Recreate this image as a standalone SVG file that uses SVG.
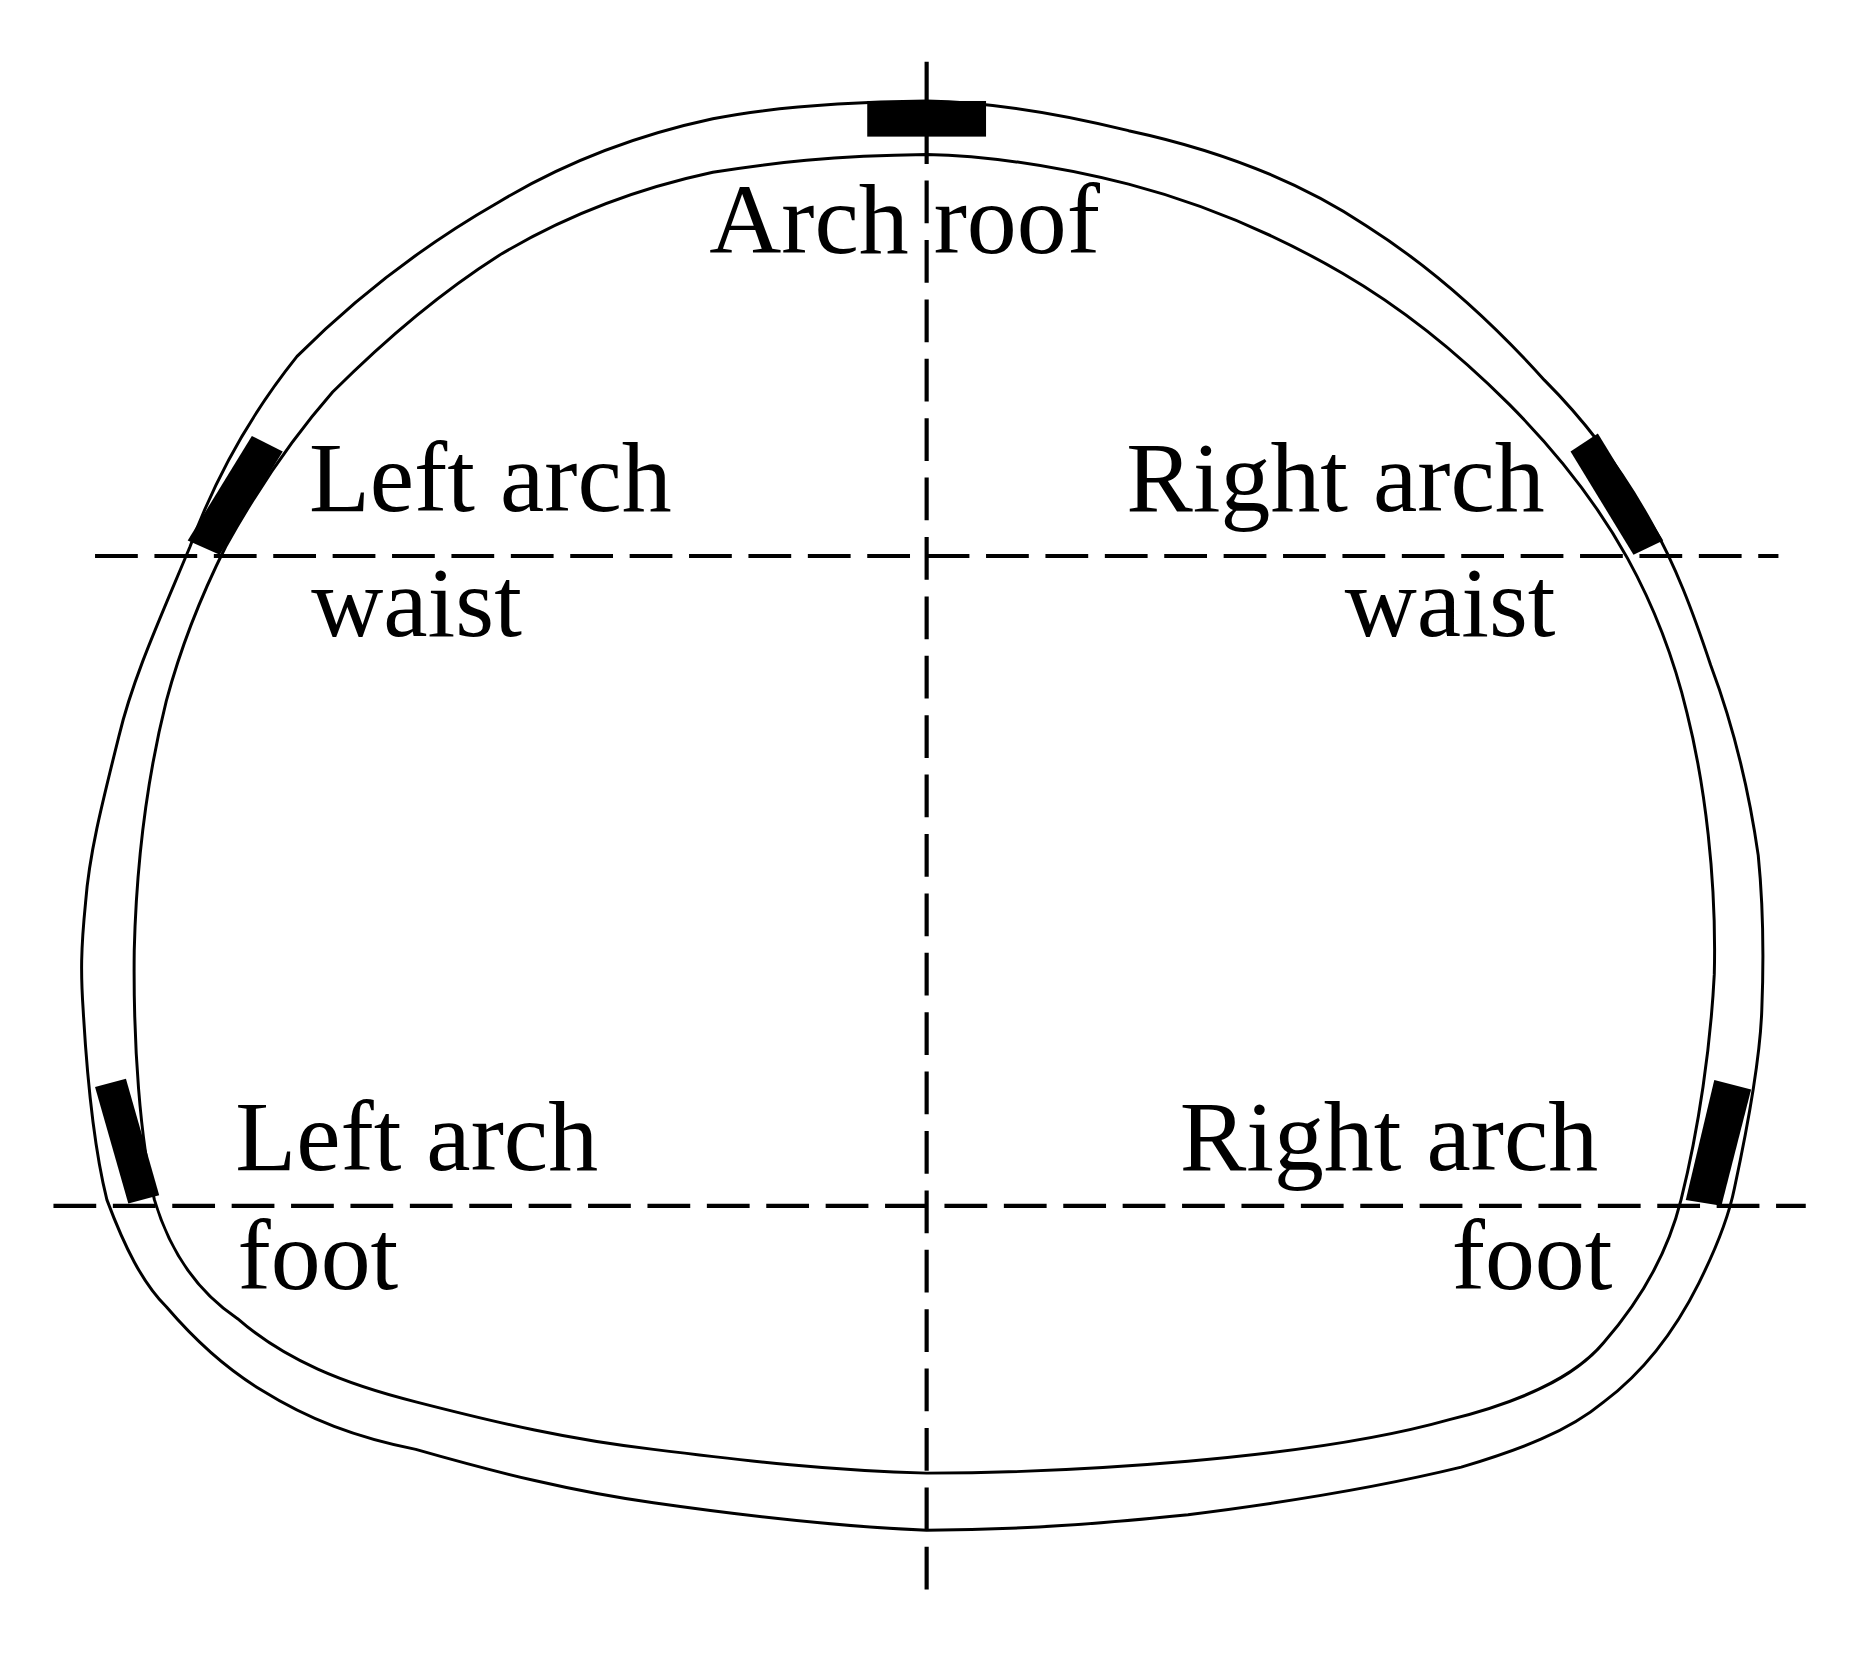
<svg xmlns="http://www.w3.org/2000/svg" width="1853" height="1660" viewBox="0 0 1853 1660">
<style>
.ln{fill:none;stroke:#000;stroke-width:2.5}
.d{fill:none;stroke:#000;stroke-width:3.5;stroke-dasharray:36 14}
.b{fill:#000}
text{font-family:"Liberation Serif","Times New Roman",serif;font-size:84px;fill:#000}
</style>
<rect width="1853" height="1660" fill="#fff"/>
<g transform="scale(1.188)">
<g id="lining">
<path class="ln" d="M780,85 C700,86 640,92 600,100 C530,115 470,140 420,170 C350,210 295,255 250,300 C210,350 180,405 160,460 C135,520 112,570 100,620 C85,680 75,720 72,760 C68,800 68,820 70,850 C74,920 80,970 90,1010 C105,1050 120,1080 140,1100 C170,1135 195,1155 220,1170 C260,1195 300,1210 350,1220 C420,1240 480,1255 550,1265 C620,1275 700,1285 780,1288 C860,1288 930,1282 1000,1275 C1080,1265 1160,1252 1230,1235 C1280,1220 1320,1205 1350,1180 C1390,1150 1415,1110 1430,1080 C1445,1050 1455,1025 1460,1000 C1475,930 1482,880 1483,850 C1485,800 1484,760 1480,720 C1470,650 1455,600 1440,560 C1425,515 1410,475 1390,440 C1365,395 1335,355 1300,320 C1255,270 1205,225 1150,190 C1090,150 1020,125 950,110 C890,95 830,86 780,85 Z"/>
<path class="ln" d="M780,130 C700,131 650,137 600,145 C530,160 470,185 420,215 C365,250 320,290 280,330 C245,370 215,415 190,460 C170,500 152,545 140,590 C125,650 115,720 113,800 C112,880 118,960 130,1010 C145,1060 170,1090 200,1110 C240,1145 290,1165 350,1180 C420,1198 480,1212 550,1220 C630,1230 700,1238 780,1240 C860,1240 930,1236 1000,1230 C1080,1223 1160,1212 1220,1195 C1280,1180 1325,1160 1350,1130 C1385,1090 1405,1050 1415,1010 C1430,950 1440,880 1443,820 C1445,740 1435,660 1420,600 C1408,550 1392,510 1370,470 C1345,425 1310,380 1270,340 C1230,300 1185,262 1130,230 C1075,198 1015,172 950,155 C890,140 830,131 780,130 Z"/>
</g>
<g id="connectors">
<line class="d" x1="780" y1="52" x2="780" y2="1340"/>
<line class="d" x1="80" y1="468" x2="1497" y2="468"/>
<line class="d" x1="45" y1="1015" x2="1520" y2="1015"/>
</g>
<g id="sensors">
<rect class="b" x="730" y="85" width="100" height="30"/>
<polygon class="b" points="158,455 185,467 238,380 212,367"/>
<polygon class="b" points="1322,380 1345,365 1400,455 1375,467"/>
<polygon class="b" points="80,915 106,908 134,1006 108,1013"/>
<polygon class="b" points="1443,909 1474,917 1449,1015 1419,1010"/>
</g>
<g id="labels">
<text x="597" y="213">Arch roof</text>
<text x="260" y="430">Left arch</text>
<text x="262" y="535">waist</text>
<text x="948" y="430">Right arch</text>
<text x="1132" y="535">waist</text>
<text x="198" y="985">Left arch</text>
<text x="200" y="1085">foot</text>
<text x="993" y="985">Right arch</text>
<text x="1222" y="1085">foot</text>
</g>
</g>
</svg>
